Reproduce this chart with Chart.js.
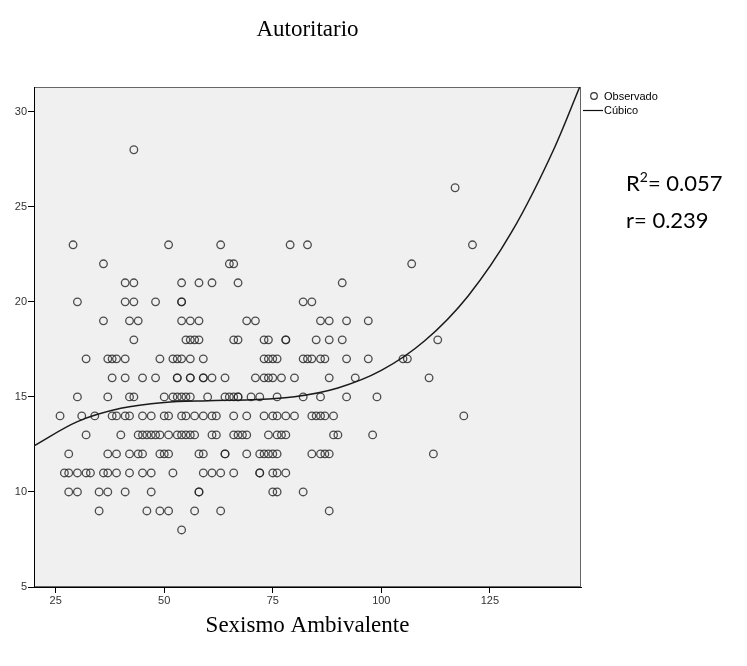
<!DOCTYPE html>
<html>
<head>
<meta charset="utf-8">
<script src="https://cdn.jsdelivr.net/npm/chart.js@4.4.1/dist/chart.umd.min.js"></script>
<style>
  html, body { margin: 0; padding: 0; background: #fff; }
  #wrap { width: 747px; height: 666px; }
</style>
</head>
<body>
<div id="wrap"><canvas id="chart" width="747" height="666"></canvas></div>
<script>
// Autoritario (y) por nivel, y los valores de Sexismo Ambivalente (x) en cada nivel
const levels = [28, 26, 23, 22, 21, 20, 19, 18, 17, 16, 15, 14, 13, 12, 11, 10, 9, 8];
const xByLevel = [
  [43],
  [117],
  [29, 51, 63, 79, 83, 121],
  [36, 65, 66, 107],
  [41, 43, 54, 58, 61, 67, 91],
  [30, 41, 43, 48, 54, 54, 82, 84],
  [36, 42, 44, 54, 56, 58, 69, 71, 86, 88, 92, 97],
  [43, 55, 56, 57, 58, 66, 67, 73, 74, 78, 78, 85, 88, 91, 113],
  [32, 37, 38, 39, 41, 49, 52, 53, 54, 56, 59, 73, 74, 75, 76, 82, 83, 84, 86, 87, 92, 97, 105, 106],
  [38, 41, 45, 48, 53, 53, 56, 56, 59, 59, 61, 64, 71, 73, 74, 75, 77, 80, 88, 94, 111],
  [30, 37, 42, 43, 50, 52, 53, 54, 55, 56, 60, 64, 65, 66, 67, 67, 70, 72, 76, 82, 86, 92, 99],
  [26, 31, 34, 38, 39, 41, 42, 45, 47, 50, 51, 54, 55, 57, 59, 61, 62, 66, 69, 73, 75, 76, 78, 80, 84, 85, 86, 87, 89, 119],
  [32, 40, 44, 45, 46, 47, 48, 49, 51, 53, 54, 55, 56, 57, 61, 62, 66, 67, 68, 69, 74, 76, 77, 78, 89, 90, 98],
  [28, 37, 39, 42, 44, 45, 49, 50, 51, 58, 59, 64, 64, 69, 72, 73, 74, 75, 76, 84, 86, 87, 88, 112],
  [27, 28, 30, 32, 33, 36, 37, 39, 42, 45, 47, 52, 59, 61, 63, 66, 72, 72, 75, 76, 78],
  [28, 30, 35, 37, 41, 47, 58, 58, 75, 76, 82],
  [35, 46, 49, 51, 57, 63, 88],
  [54]
];

// curva cúbica
const curveX = [20, 30, 40, 50, 60, 70, 80, 90, 100, 110, 120, 130, 140, 145.7];
const curveY = [12.43, 13.7, 14.4, 14.71, 14.8, 14.85, 15.01, 15.47, 16.39, 17.95, 20.31, 23.66, 28.16, 31.3];

const xTicks = [25, 50, 75, 100, 125];
const yTicks = [5, 10, 15, 20, 25, 30];

const points = [];
levels.forEach((y, i) => {
  xByLevel[i].forEach(x => points.push({ x: x, y: y }));
});
const curve = curveX.map((x, i) => ({ x: x, y: curveY[i] }));

const tickFont = { family: '"Liberation Sans", Arial, sans-serif', size: 11 };

// fondo gris y marco del área de trazado
const plotBg = {
  id: 'plotBg',
  beforeDraw(chart) {
    const { ctx, chartArea: a } = chart;
    ctx.save();
    ctx.fillStyle = '#f0f0f0';
    ctx.fillRect(a.left, a.top, a.right - a.left, a.bottom - a.top);
    ctx.strokeStyle = '#666';
    ctx.lineWidth = 1;
    ctx.strokeRect(a.left + 0.5, a.top + 0.5, a.right - a.left - 1, a.bottom - a.top - 1);
    ctx.restore();
  }
};

// títulos, leyenda y estadísticos
const labels = {
  id: 'labels',
  afterDraw(chart) {
    const { ctx, chartArea: a } = chart;
    const cx = (a.left + a.right) / 2;
    ctx.save();
    ctx.fillStyle = '#000';
    ctx.textAlign = 'center';
    ctx.textBaseline = 'middle';
    ctx.font = '23px "Liberation Serif", "Times New Roman", serif';
    ctx.fillText('Autoritario', cx, 30);
    ctx.fillText('Sexismo Ambivalente', cx, 626);

    // leyenda
    ctx.textAlign = 'left';
    ctx.font = '11px "Liberation Sans", Arial, sans-serif';
    ctx.strokeStyle = '#333';
    ctx.lineWidth = 1.2;
    ctx.beginPath();
    ctx.arc(594, 96, 3.3, 0, Math.PI * 2);
    ctx.stroke();
    ctx.fillText('Observado', 604, 97);
    ctx.strokeStyle = '#111';
    ctx.beginPath();
    ctx.moveTo(583, 110.5);
    ctx.lineTo(603, 110.5);
    ctx.stroke();
    ctx.fillText('Cúbico', 604, 111);

    // R² y r
    ctx.font = '22px Lato, "Open Sans", sans-serif';
    ctx.textBaseline = 'alphabetic';
    let x = 626;
    ctx.fillText('R', x, 191);
    x += ctx.measureText('R').width;
    ctx.font = '14px Lato, "Open Sans", sans-serif';
    ctx.fillText('2', x, 182);
    x += ctx.measureText('2').width;
    ctx.font = '22px Lato, "Open Sans", sans-serif';
    ctx.fillText('= 0.057', x, 191);
    ctx.fillText('r= 0.239', 626, 228);
    ctx.restore();
  }
};

new Chart(document.getElementById('chart'), {
  type: 'scatter',
  data: {
    datasets: [
      {
        label: 'Observado',
        data: points,
        pointRadius: 3.8,
        pointBorderWidth: 1.3,
        pointBorderColor: 'rgba(35,35,35,0.8)',
        pointBackgroundColor: 'rgba(0,0,0,0)',
        order: 2
      },
      {
        label: 'Cúbico',
        type: 'line',
        data: curve,
        borderColor: '#1a1a1a',
        borderWidth: 1.5,
        pointRadius: 0,
        cubicInterpolationMode: 'monotone',
        fill: false,
        order: 1
      }
    ]
  },
  options: {
    responsive: false,
    animation: false,
    layout: { padding: { top: 87, right: 166, left: 0, bottom: 0 } },
    plugins: { legend: { display: false }, tooltip: { enabled: false } },
    scales: {
      x: {
        type: 'linear',
        min: 20,
        max: 146,
        afterBuildTicks: s => { s.ticks = xTicks.map(v => ({ value: v })); },
        afterFit: s => { s.height = 79; },
        grid: { drawOnChartArea: false, tickLength: 6, color: '#000' },
        border: { color: '#000' },
        ticks: { font: tickFont, color: '#333', padding: 1, maxRotation: 0 }
      },
      y: {
        min: 5,
        max: 31.3,
        afterBuildTicks: s => { s.ticks = yTicks.map(v => ({ value: v })); },
        afterFit: s => { s.width = 34; },
        grid: { drawOnChartArea: false, tickLength: 6, color: '#000' },
        border: { color: '#000' },
        ticks: { font: tickFont, color: '#333', padding: 1 }
      }
    }
  },
  plugins: [plotBg, labels]
});
</script>
</body>
</html>
